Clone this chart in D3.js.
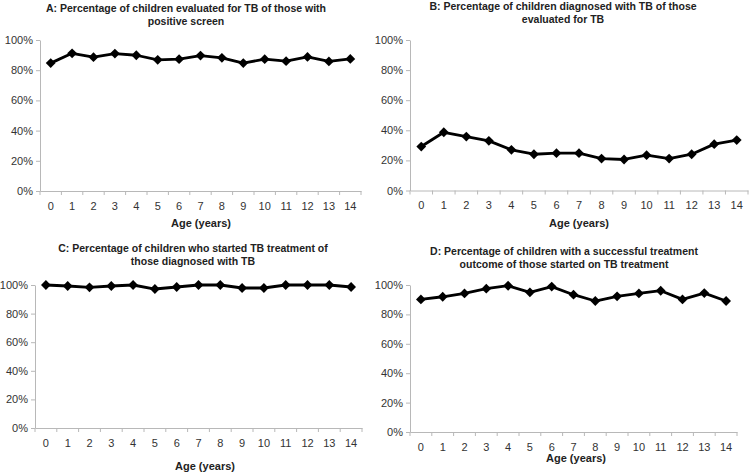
<!DOCTYPE html>
<html>
<head>
<meta charset="utf-8">
<script src="https://cdn.jsdelivr.net/npm/d3@7"></script>
<style>
    body { margin: 0; background: #fff; }
    svg { display: block; font-family: "Liberation Sans", Arial, sans-serif; }
    .axis path, .axis line { stroke: #b8b8b8; }
    .axis text { fill: #333; font-size: 11px; }
    .title { font-weight: bold; font-size: 10.5px; fill: #222; }
    .xlabel { font-weight: bold; font-size: 11px; fill: #222; }
</style>
</head>
<body>
<svg id="chart" width="750" height="473"></svg>
<script>
const ages = ["0","1","2","3","4","5","6","7","8","9","10","11","12","13","14"];
const yTicks = [0, 20, 40, 60, 80, 100];

const evaluated = [84.7, 91.2, 88.6, 91.0, 89.9, 86.9, 87.3, 89.7, 88.2, 84.7, 87.3, 86.0, 88.8, 85.8, 87.5];
const diagnosed = [29.2, 38.7, 35.8, 33.0, 27.0, 24.1, 24.8, 24.8, 21.2, 20.6, 23.5, 21.2, 24.1, 30.8, 33.5];
const started = [100, 99.3, 98.4, 99.3, 100, 97.2, 98.6, 100, 100, 97.9, 97.9, 100, 100, 100, 98.6];
const success = [90.2, 92.0, 94.3, 97.5, 99.5, 95.0, 98.9, 93.4, 89.1, 92.3, 94.3, 96.1, 90.2, 94.5, 89.1];

const titles = [
    ["A: Percentage of children evaluated for TB of those with", "positive screen"],
    ["B: Percentage of children diagnosed with TB of those", "evaluated for TB"],
    ["C: Percentage of children who started TB treatment of", "those diagnosed with TB"],
    ["D: Percentage of children with a successful treatment", "outcome of those started on TB treatment"]
];
const xTitle = "Age (years)";

// plot boxes for each panel
const panels = [
    {data: evaluated, title: titles[0], x0: 40, x1: 361, y0: 40, y1: 191, tx: 186, ty: 8, lx: 201, ly: 223},
    {data: diagnosed, title: titles[1], x0: 410, x1: 748, y0: 40, y1: 190.5, tx: 563, ty: 6, lx: 579, ly: 223},
    {data: started, title: titles[2], x0: 35, x1: 362, y0: 285, y1: 428, tx: 193, ty: 248, lx: 205, ly: 466},
    {data: success, title: titles[3], x0: 410, x1: 737, y0: 285, y1: 432, tx: 564, ty: 251, lx: 576, ly: 458}
];

const svg = d3.select("#chart");

for (let p of panels) {
    let g = svg.append("g");

    let x = d3.scaleBand().domain(ages).range([p.x0, p.x1]);
    let y = d3.scaleLinear().domain([0, 100]).range([p.y1, p.y0]);

    // y axis
    g.append("g").attr("class", "axis")
        .attr("transform", `translate(${p.x0},0)`)
        .call(d3.axisLeft(y).tickValues(yTicks).tickSize(4).tickPadding(3).tickSizeOuter(0).tickFormat(d => d + "%"));

    // x axis, ticks between categories like excel
    let xAxis = g.append("g").attr("class", "axis")
        .attr("transform", `translate(0,${p.y1})`)
        .call(d3.axisBottom(x).tickSize(0).tickPadding(11));
    xAxis.selectAll(".tick-sep")
        .data(ages.concat([null]))
        .enter().append("line")
        .attr("class", "tick-sep")
        .attr("x1", (d, i) => p.x0 + i * x.step())
        .attr("x2", (d, i) => p.x0 + i * x.step())
        .attr("y1", 0).attr("y2", 4);

    // line
    let line = d3.line()
        .x((d, i) => x(ages[i]) + x.bandwidth() / 2)
        .y(d => y(d));
    g.append("path").datum(p.data)
        .attr("d", line)
        .attr("fill", "none")
        .attr("stroke", "#000")
        .attr("stroke-width", 2.8)
        .attr("stroke-linejoin", "round");

    // diamond markers
    g.selectAll(".pt").data(p.data).enter().append("path")
        .attr("class", "pt")
        .attr("transform", (d, i) => `translate(${x(ages[i]) + x.bandwidth() / 2},${y(d)}) rotate(45)`)
        .attr("d", d3.symbol().type(d3.symbolSquare).size(48))
        .attr("fill", "#000");

    // title
    let t = g.append("text").attr("class", "title")
        .attr("text-anchor", "middle")
        .attr("x", p.tx).attr("y", p.ty).attr("dy", "0.35em");
    p.title.forEach((s, i) => {
        t.append("tspan").attr("x", p.tx).attr("dy", i == 0 ? "0.35em" : "13.5px").text(s);
    });

    g.append("text").attr("class", "xlabel")
        .attr("text-anchor", "middle")
        .attr("x", p.lx).attr("y", p.ly).attr("dy", "0.35em")
        .text(xTitle);
}
</script>
</body>
</html>
